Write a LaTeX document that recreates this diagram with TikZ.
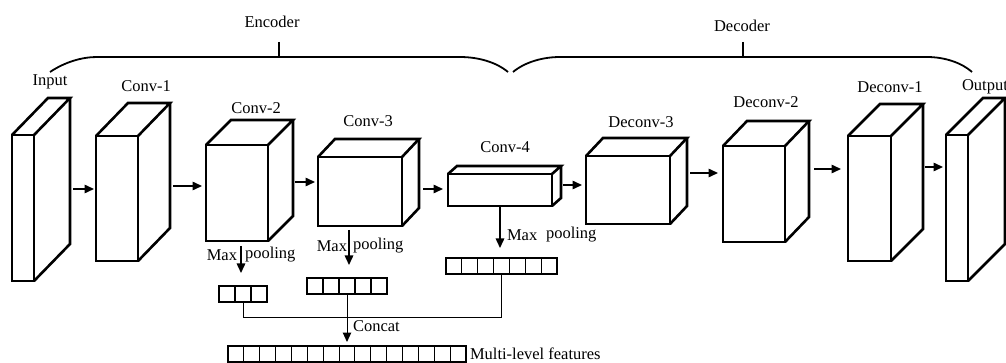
\documentclass[tikz,border=0pt]{standalone}
\usepackage{fontspec}
\setmainfont{Liberation Serif}
\usetikzlibrary{arrows.meta,calc}
\tikzset{
  face/.style={draw, line width=2.6pt, fill=white, inner sep=0pt, outer sep=0pt},
  boxline/.style={line width=2.6pt, line join=miter},
  cellbox/.style={draw, line width=1.1pt, inner sep=0pt, outer sep=0pt},
  cellline/.style={line width=1.1pt},
  arr/.style={line width=1.5pt, -{Triangle[length=9.5pt,width=8.5pt]}},
  tarr/.style={line width=1pt, -{Triangle[length=9.5pt,width=8.5pt]}},
  thinline/.style={line width=1pt},
  brace/.style={line width=1.8pt},
  lbl/.style={inner sep=0pt, outer sep=0pt},
}
% name, xl, yt, xr, yb, dx, dy
\newcommand\cuboid[7]{%
  \node[face, minimum width={#4-#2}, minimum height={#5-#3}] (#1) at ({(#2+#4)/2},{(#3+#5)/2}) {};
  \draw[boxline] (#1.north west) -- ++(#6,#7) -- ++({#4-#2},0) -- (#1.north east);
  \draw[boxline] ($(#1.north east)+(#6,#7)$) -- ++(0,{#5-#3}) -- (#1.south east);
}
% name, xl, yt, xr, yb, n-1
\newcommand\cellrow[6]{%
  \node[cellbox, minimum width={#4-#2}, minimum height={#5-#3}] (#1) at ({(#2+#4)/2},{(#3+#5)/2}) {};
  \foreach \i in {1,...,#6}
    \draw[cellline] ($(#1.north west)!{\i/(#6+1)}!(#1.north east)$) -- ($(#1.south west)!{\i/(#6+1)}!(#1.south east)$);
}
\begin{document}
\begin{tikzpicture}[x=1pt,y=-1pt,font=\fontsize{16.5}{19}\selectfont]
\useasboundingbox (0,0) rectangle (1006,363);

% braces
\draw[brace] (50,72) .. controls (65,62) and (82,57) .. (97,57) -- (460,57) .. controls (478,57) and (496,62) .. (508,72);
\draw[brace] (279,42) -- (279,57);
\draw[brace] (513,72) .. controls (525,62) and (543,57) .. (560,57) -- (927,57) .. controls (945,57) and (962,63) .. (972,72);
\draw[brace] (743,42) -- (743,57);
\node[lbl] (enc) at (272,22) {Encoder};
\node[lbl] (dec) at (742,26) {Decoder};

% blocks
\cuboid{input}{12}{135}{34}{281}{36}{-37}
\cuboid{conv1}{96}{136}{138}{261}{32}{-33}
\cuboid{conv2}{206}{145}{268}{241}{25}{-25}
\cuboid{conv3}{318}{157}{402}{226}{17}{-18}
\cuboid{conv4}{448}{174}{552}{206}{9}{-8}
\cuboid{deconv3}{586}{156}{670}{224}{17}{-18}
\cuboid{deconv2}{723}{146}{785}{242}{24}{-25}
\cuboid{deconv1}{848}{136}{891}{261}{32}{-32}
\cuboid{output}{946}{135}{968}{281}{37}{-37}

% labels
\node[lbl] (linput) at (50,82) {Input};
\node[lbl] (lconv1) at (146,86) {Conv-1};
\node[lbl] (lconv2) at (256,108) {Conv-2};
\node[lbl] (lconv3) at (368,121) {Conv-3};
\node[lbl] (lconv4) at (505,147) {Conv-4};
\node[lbl] (ldeconv3) at (641,122) {Deconv-3};
\node[lbl] (ldeconv2) at (766,102) {Deconv-2};
\node[lbl] (ldeconv1) at (890,87) {Deconv-1};
\node[lbl,anchor=west] (loutput) at (962,87) {Output};

% forward arrows
\coordinate (s1) at (73,189);
\coordinate (s2) at (173,186);
\coordinate (s3) at (295,182);
\coordinate (s4) at (423,189);
\coordinate (s5) at (563,185);
\coordinate (s6) at (690,173);
\coordinate (s7) at (814,169);
\coordinate (s8) at (925,167);
\draw[arr, shorten >=2pt] (s1) -- (s1 -| conv1.west);
\draw[arr, shorten >=4pt] (s2) -- (s2 -| conv2.west);
\draw[arr, shorten >=3pt] (s3) -- (s3 -| conv3.west);
\draw[arr, shorten >=5pt] (s4) -- (s4 -| conv4.west);
\draw[arr, shorten >=4pt] (s5) -- (s5 -| deconv3.west);
\draw[arr, shorten >=5pt] (s6) -- (s6 -| deconv2.west);
\draw[arr, shorten >=7pt] (s7) -- (s7 -| deconv1.west);
\draw[arr, shorten >=3pt] (s8) -- (s8 -| output.west);

% vectors
\cellrow{v1}{219}{286}{267}{302}{2}
\cellrow{v2}{307}{278}{387}{294}{4}
\cellrow{v3}{446}{258}{557}{274}{6}
\cellrow{vbig}{228}{346}{466}{362}{14}

% max pooling
\coordinate (p2) at (241,282);
\coordinate (p3) at (349,274);
\coordinate (p4) at (500,256);
\draw[arr, shorten <=5pt, shorten >=9pt] (p2 |- conv2.south) -- (p2);
\draw[arr, shorten <=4pt, shorten >=9pt] (p3 |- conv3.south) -- (p3);
\draw[arr, shorten <=1pt, shorten >=8pt] (p4 |- conv4.south) -- (p4);
\node[lbl,anchor=east] (mx2) at (237,255) {Max};
\node[lbl,anchor=west] (pl2) at (245,255) {pooling};
\node[lbl,anchor=east] (mx3) at (347,246) {Max};
\node[lbl,anchor=west] (pl3) at (353,246) {pooling};
\node[lbl,anchor=west] (mx4) at (507,235) {Max};
\node[lbl,anchor=west] (pl4) at (546,235) {pooling};

% concat
\draw[thinline] (v1.south) -- ++(0,15) -| (v3.south);
\draw[tarr, shorten >=4pt] (v2.south) -- (v2.south |- vbig.north);
\node[lbl,anchor=west] (lconcat) at (353,326) {Concat};
\node[lbl,anchor=west] (lmulti) at (470,354) {Multi-level features};
\end{tikzpicture}
\end{document}
